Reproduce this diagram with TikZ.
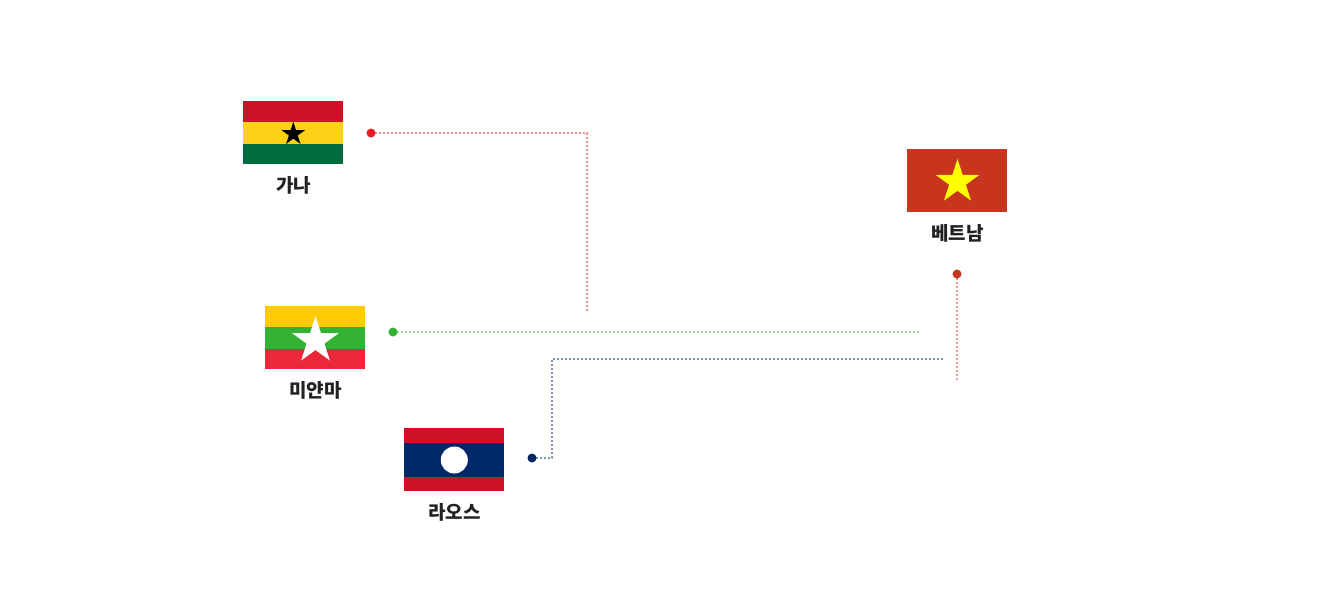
\documentclass[tikz,border=0pt]{standalone}
\usepackage{fontspec}
\setmainfont{Noto Sans CJK KR}
\usetikzlibrary{shapes.geometric}
\definecolor{gred}{HTML}{CE1126}
\definecolor{gyel}{HTML}{FCD116}
\definecolor{ggrn}{HTML}{006B3F}
\definecolor{myel}{HTML}{FECB00}
\definecolor{mgrn}{HTML}{34B233}
\definecolor{mred}{HTML}{EA2839}
\definecolor{lblu}{HTML}{002868}
\definecolor{vred}{HTML}{C8351F}
\definecolor{vyel}{HTML}{FFFF00}
\definecolor{dred}{HTML}{ED1C24}
\definecolor{txt}{HTML}{222222}
\tikzset{
  stripe/.style={rectangle,draw=none,fill=#1,inner sep=0pt,minimum width=100pt},
  flagstar/.style n args={2}{star,star points=5,star point ratio=2.618,draw=none,fill=#1,inner sep=0pt,minimum size=#2},
  label/.style={text=txt,font=\fontsize{19pt}{22pt}\selectfont\bfseries,inner sep=0pt,anchor=center},
  pin/.style={circle,fill=#1,draw=none,inner sep=0pt,minimum size=9pt},
  link/.style={draw=#1!50!white,line width=1.5pt,dash pattern=on 2pt off 2pt}
}
\begin{document}
\begin{tikzpicture}[x=1pt,y=-1pt]
\useasboundingbox[fill=white] (0,0) rectangle (1332,602);
% Ghana
\node[stripe=gred,minimum height=21pt] (gh1) at (293,111.5) {};
\node[stripe=gyel,minimum height=22pt] (gh2) at (293,133) {};
\node[stripe=ggrn,minimum height=20.5pt] (gh3) at (293,154.2) {};
\node[flagstar={black}{24.5pt}] (ghs) at (293.3,134) {};
\node[label] (ghl) at (293.7,185.3) {가나};
% Myanmar
\node[stripe=myel,minimum height=21pt] (my1) at (315,316.5) {};
\node[stripe=mgrn,minimum height=22pt] (my2) at (315,338) {};
\node[stripe=mred,minimum height=20pt] (my3) at (315,359) {};
\node[flagstar={white}{49pt}] (mys) at (315.5,340.7) {};
\node[label] (myl) at (315.7,390.3) {미얀마};
% Laos
\node[stripe=gred,minimum height=15pt] (la1) at (454,435.5) {};
\node[stripe=lblu,minimum height=34pt] (la2) at (454,460) {};
\node[stripe=gred,minimum height=14.3pt] (la3) at (454,484) {};
\node[circle,fill=white,draw=none,inner sep=0pt,minimum size=27pt] (lac) at (454.3,460) {};
\node[label] (lal) at (454.7,512.3) {라오스};
% Vietnam
\node[stripe=vred,minimum height=63pt] (vn) at (957,180.5) {};
\node[flagstar={vyel}{46pt}] (vns) at (957.5,182) {};
\node[label] (vnl) at (957.7,233.3) {베트남};
% pins
\coordinate (gc) at (587,133);
\coordinate (ge) at (587,311);
\coordinate (me) at (919,332);
\coordinate (lc1) at (552,458);
\coordinate (lc2) at (552,359);
\coordinate (le) at (945,359);
\coordinate (ve) at (957,381.5);
\draw[link=dred] (371,133) coordinate (gs) -- (gc) -- (ge);
\draw[link=mgrn] (393,332) coordinate (ms) -- (me);
\draw[link=lblu] (532,458) coordinate (ls) -- (lc1) -- (lc2) -- (le);
\draw[link=vred] (957,274) coordinate (vs) -- (ve);
\node[pin=dred] (gp) at (gs) {};
\node[pin=mgrn] (mp) at (ms) {};
\node[pin=lblu] (lp) at (ls) {};
\node[pin=vred] (vp) at (vs) {};
\end{tikzpicture}
\end{document}
